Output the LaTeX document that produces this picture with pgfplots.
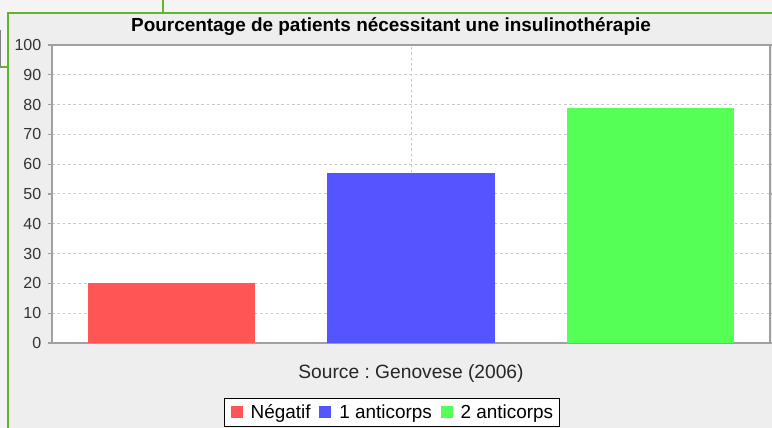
\documentclass[border=0pt]{standalone}
\usepackage{pgfplots}
\pgfplotsset{compat=1.18}
\usepackage{fontspec}
\setmainfont{Liberation Sans}
\definecolor{framegreen}{RGB}{98,180,42}
\definecolor{outerbg}{RGB}{244,244,244}
\definecolor{innerbg}{RGB}{238,238,238}
\definecolor{barred}{RGB}{255,85,85}
\definecolor{barblue}{RGB}{85,85,255}
\definecolor{bargreen}{RGB}{85,255,85}
\definecolor{axgray}{RGB}{160,160,160}
\definecolor{gridgray}{RGB}{200,200,200}
\begin{document}
\begin{tikzpicture}[x=0.75pt,y=0.75pt]
\path[use as bounding box] (0,0) rectangle (772,428);
\clip (0,0) rectangle (772,428);
\fill[outerbg] (0,0) rectangle (772,428);
\fill[innerbg] (8,0) rectangle (775,415);
\draw[framegreen, line width=1.5pt] (8,-5) -- (8,415) -- (780,415);
\draw[framegreen, line width=1.5pt] (163,428) -- (163,415);
\draw[framegreen, line width=1.5pt] (-2,361) -- (8,361);
\draw[gray, line width=1pt] (0.5,361) -- (0.5,398);
\coordinate (O) at (52,85);
\node[font=\bfseries\fontsize{14.2}{16}\selectfont, text=black] at (391,401) {Pourcentage de patients nécessitant une insulinothérapie};
\begin{axis}[
  at={(O)}, anchor=south west,
  scale only axis, width=538.5pt, height=223.5pt,
  xmin=-0.5, xmax=2.5, ymin=0, ymax=100,
  axis background/.style={fill=white},
  axis line style={draw=axgray, line width=0.9pt},
  xtick=\empty,
  extra x ticks={1},
  extra x tick labels={},
  extra x tick style={grid=major, major tick length=0pt},
  ytick={0,10,...,100},
  ymajorgrids,
  major grid style={draw=gridgray, line width=0.75pt, dash pattern=on 2pt off 2pt},
  tick align=outside,
  major tick length=3pt,
  tick style={draw=axgray, line width=0.9pt},
  /pgf/number format/assume math mode=true,
  yticklabel style={font=\fontsize{12}{14}\selectfont, text=black!80, xshift=-1.5pt},
  xlabel={Source :\ Genovese (2006)},
  xlabel style={font=\fontsize{14.4}{16}\selectfont, text=black!85, at={(axis description cs:0.5,-0.104)}, anchor=center},
  legend columns=-1,
  legend style={at={(0.4735,-0.1846)}, anchor=north, draw=black, line width=0.75pt, fill=white,
     font=\fontsize{14.2}{16}\selectfont, inner xsep=5pt, inner ysep=2.5pt,
     nodes={inner xsep=0pt},
     /tikz/every odd column/.append style={column sep=6pt},
     /tikz/every even column/.append style={column sep=6.5pt}},
  legend image code/.code={\fill[#1] (0pt,-4.2pt) rectangle (9pt,4.8pt);},
]
\addplot[ybar, bar shift=0pt, bar width=0.7, fill=barred, draw=none] coordinates {(0,20)};
\addplot[ybar, bar shift=0pt, bar width=0.7, fill=barblue, draw=none] coordinates {(1,57)};
\addplot[ybar, bar shift=0pt, bar width=0.7, fill=bargreen, draw=none] coordinates {(2,79)};
\legend{Négatif, 1 anticorps, 2 anticorps}
\end{axis}
\end{tikzpicture}
\end{document}
